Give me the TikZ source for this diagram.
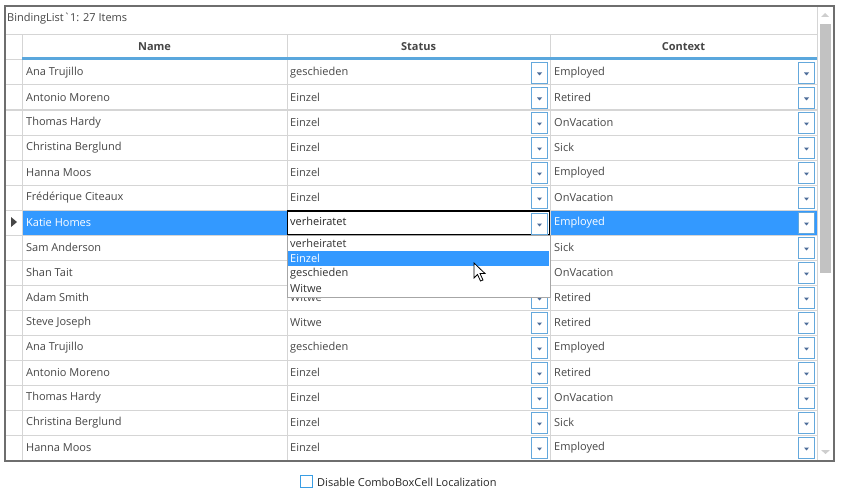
\documentclass[tikz,border=0pt]{standalone}
\usepackage{fontspec}
\setmainfont{Open Sans}
\usepackage{tikz}
\usetikzlibrary{positioning}
\definecolor{gridGray}{HTML}{D5D5D5}
\definecolor{frameGray}{HTML}{6E6E6E}
\definecolor{txtGray}{HTML}{464646}
\definecolor{hdrBlue}{HTML}{5AA7DD}
\definecolor{selBlue}{HTML}{3399FF}
\definecolor{btnBlue}{HTML}{64A8DC}
\definecolor{arrowBlue}{HTML}{4C6C99}
\definecolor{sbGray}{HTML}{C2C2C2}
\definecolor{chkBlue}{HTML}{3A9EE4}
\tikzset{
  uitext/.style={font=\fontsize{11}{13}\selectfont, text=txtGray, inner sep=0pt},
  celltext/.style={uitext, anchor=west},
  hdrtext/.style={uitext, font=\fontsize{11}{13}\selectfont\bfseries},
  seltext/.style={celltext, text=white},
  gridline/.style={draw=gridGray, line width=1pt},
  combobtn/.style={draw=btnBlue, line width=1pt, fill=white, minimum width=16pt,
                   minimum height=21pt, inner sep=0pt, anchor=north east},
  combotip/.style={fill=arrowBlue},
  dropbox/.style={draw=gray!70, fill=white, line width=1pt},
  sbarrow/.style={fill=sbGray!80},
}

\begin{document}
\begin{tikzpicture}[x=1pt, y=-1pt]
% Column x-positions
\def\xHead{5}     \def\xName{22}
\def\xStat{287}   \def\xCtx{550}
\def\xBar{817}    \def\xEnd{834}
% Row y-positions
\def\yTop{6}    \def\yHdr{35}    \def\yRow{60}    \def\yBot{461}

\useasboundingbox (0,0) rectangle (844,495);
\fill[white] (0,0) rectangle (844,495);

%% Selected row
\fill[selBlue] (\xName, 210) rectangle (\xStat, 235);
\fill[selBlue] (\xCtx, 210) rectangle (\xBar, 235);

%% Grid
\foreach \k in {1,...,15} {
  \draw[gridline] (\xHead, \yRow+25*\k) -- (\xBar, \yRow+25*\k);
}
\draw[gridline] (\xHead, \yHdr) -- (\xBar, \yHdr);
\draw[gridline] (\xHead, \yRow) -- (\xName, \yRow);
\foreach \x in {\xName, \xStat, \xCtx} {
  \draw[gridline] (\x, \yHdr) -- (\x, \yBot);
}
\draw[gridline] (\xBar, \yTop) -- (\xBar, \yBot);
\draw[hdrBlue, line width=3pt] (\xName, 59) -- (\xBar, 59);

%% Headers
\node[uitext, anchor=west] (title) at (7, 18.5) {BindingList\textasciigrave 1: 27 Items};
\node[hdrtext] (hName) at (154.5, 47) {Name};
\node[hdrtext] (hStat) at (418.5, 47) {Status};
\node[hdrtext] (hCtx)  at (683.5, 47) {Context};

%% Rows
\foreach \i/\nm/\st/\ct in {
  0/Ana Trujillo/geschieden/Employed, 1/Antonio Moreno/Einzel/Retired,
  2/Thomas Hardy/Einzel/OnVacation, 3/Christina Berglund/Einzel/Sick,
  4/Hanna Moos/Einzel/Employed, 5/Frédérique Citeaux/Einzel/OnVacation,
  6///, 7/Sam Anderson//Sick, 8/Shan Tait//OnVacation,
  9/Adam Smith/Witwe/Retired, 10/Steve Joseph/Witwe/Retired,
  11/Ana Trujillo/geschieden/Employed, 12/Antonio Moreno/Einzel/Retired,
  13/Thomas Hardy/Einzel/OnVacation, 14/Christina Berglund/Einzel/Sick,
  15/Hanna Moos/Einzel/Employed} {
  \node[celltext] (name\i) at (26, \yRow+25*\i+12.5) {\nm};
  \node[celltext] (stat\i) at (290, \yRow+25*\i+12.5) {\st};
  \node[celltext] (ctx\i)  at (554, \yRow+25*\i+12.5) {\ct};
  \node[combobtn] (sbtn\i) at (548, \yRow+25*\i+2) {};
  \node[combobtn] (cbtn\i) at (815, \yRow+25*\i+2) {};
  \fill[combotip] (sbtn\i.center) ++(-2.5,-0.5) -- ++(5,0) -- ++(-2.5,3) -- cycle;
  \fill[combotip] (cbtn\i.center) ++(-2.5,-0.5) -- ++(5,0) -- ++(-2.5,3) -- cycle;
}

%% Current row
\fill[txtGray] (11,217) -- (17,222) -- (11,227) -- cycle;
\node[seltext] (selName) at (26, 222.5) {Katie Homes};
\node[seltext] (selCtx)  at (554, 222.5) {Employed};

% Editing cell
\draw[black, line width=1.5pt, fill=white] (\xStat+0.5, 211) rectangle (\xCtx-0.5, 234.5);
\node[celltext, text=black!85] (editVal) at (290, 221.5) {verheiratet};
\node[combobtn] (ebtn) at (548, 213) {};
\fill[combotip] (ebtn.center) ++(-2.5,-0.5) -- ++(5,0) -- ++(-2.5,3) -- cycle;

% Drop-down list
\draw[dropbox] (\xStat, 235) rectangle (\xCtx, 297);
\fill[selBlue] (\xStat+1, 251) rectangle (\xCtx-1, 266);
\node[celltext, text=black!80] (opt1) at (290, 243.5) {verheiratet};
\node[seltext]                 (opt2) at (290, 258.5) {Einzel};
\node[celltext, text=black!80] (opt3) at (290, 273.5) {geschieden};
\node[celltext, text=black!80] (opt4) at (290, 288.5) {Witwe};

% Mouse pointer
\draw[black, fill=white, line width=0.8pt, line join=miter]
  (474,263) -- (474,278) -- (477.5,274.5) -- (480.5,281) -- (483,280)
  -- (480,273.5) -- (485,273.5) -- cycle;

%% Scrollbar
\fill[sbGray] (820, 24) rectangle (831, 273);
\fill[sbarrow] (821,17) -- (829,17) -- (825,13) -- cycle;
\fill[sbarrow] (821,450) -- (830,450) -- (825.5,454) -- cycle;

%% Frame
\draw[frameGray, line width=1.3pt] (\xHead, \yTop) rectangle (\xEnd, \yBot);

%% Option
\draw[chkBlue, line width=1pt] (300.5, 475.5) rectangle (312.5, 487.5);
\node[uitext, text=black!85, anchor=west] (optText) at (317, 482) {Disable ComboBoxCell Localization};
\end{tikzpicture}
\end{document}
